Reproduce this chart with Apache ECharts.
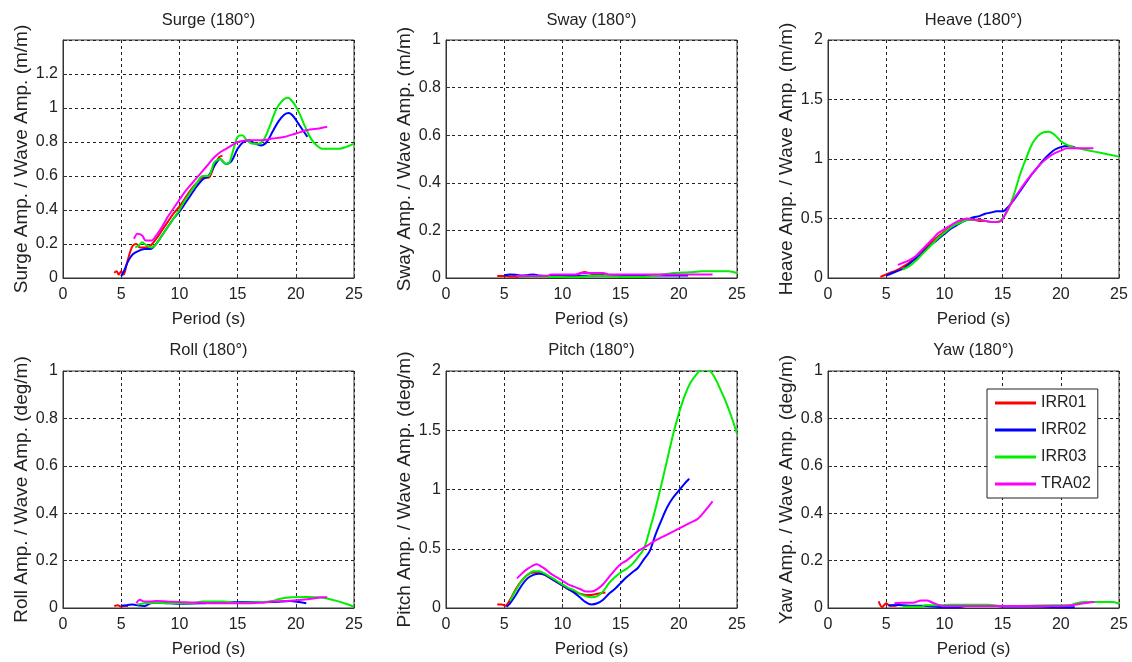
<!DOCTYPE html>
<html>
<head>
<meta charset="utf-8">
<script src="https://cdn.jsdelivr.net/npm/echarts@6/dist/echarts.min.js"></script>
<style>html,body{margin:0;padding:0;background:#fff;}#c{width:1132px;height:662px;}</style>
</head>
<body>
<div id="c"></div>
<script>
// ---------- DATA ----------
const seriesNames = ['IRR01', 'IRR02', 'IRR03', 'TRA02'];
const titles = ['Surge (180°)', 'Sway (180°)', 'Heave (180°)', 'Roll (180°)', 'Pitch (180°)', 'Yaw (180°)'];
const yNames = ['Surge Amp. / Wave Amp. (m/m)', 'Sway Amp. / Wave Amp. (m/m)', 'Heave Amp. / Wave Amp. (m/m)',
                'Roll Amp. / Wave Amp. (deg/m)', 'Pitch Amp. / Wave Amp. (deg/m)', 'Yaw Amp. / Wave Amp. (deg/m)'];
const xName = 'Period (s)';
const xRange = [0, 25, 5];
const yMax = [1.4, 1, 2, 1, 2, 1];
const yStep = [0.2, 0.2, 0.5, 0.2, 0.5, 0.2];
const yLabelMax = [1.2, 1, 2, 1, 2, 1];

const surgeIRR01 = [[4.4,0.03],[4.6,0.04],[4.8,0.02],[5.0,0.04],[5.2,0.02],[5.5,0.09],[5.8,0.16],[6.0,0.19],[6.3,0.2],[6.6,0.18],[7.0,0.18],[7.5,0.19],[8.0,0.23],[8.5,0.28],[9.0,0.33],[9.5,0.38],[10.0,0.42],[10.5,0.47],[11.0,0.52],[11.5,0.56],[12.0,0.59],[12.5,0.59],[13.0,0.66],[13.4,0.71],[13.7,0.72]];
const surgeIRR02 = [[5.0,0.01],[5.3,0.05],[5.6,0.1],[6.0,0.14],[6.5,0.16],[7.0,0.17],[7.5,0.17],[8.0,0.2],[8.5,0.25],[9.0,0.3],[9.5,0.35],[10.0,0.39],[10.5,0.44],[11.0,0.49],[11.5,0.54],[12.0,0.58],[12.5,0.6],[13.0,0.66],[13.5,0.7],[14.0,0.67],[14.5,0.69],[15.0,0.76],[15.5,0.8],[16.0,0.81],[16.5,0.79],[17.0,0.78],[17.5,0.8],[18.0,0.86],[18.5,0.92],[19.0,0.96],[19.4,0.97],[19.8,0.95],[20.3,0.9],[20.8,0.85],[21.0,0.83]];
const surgeIRR03 = [[6.2,0.18],[6.5,0.19],[6.8,0.21],[7.2,0.19],[7.6,0.18],[8.0,0.2],[8.5,0.25],[9.0,0.3],[9.5,0.35],[10.0,0.4],[10.5,0.46],[11.0,0.51],[11.5,0.56],[12.0,0.6],[12.5,0.6],[13.0,0.68],[13.5,0.7],[14.0,0.67],[14.3,0.68],[14.7,0.77],[15.0,0.83],[15.4,0.84],[15.8,0.81],[16.3,0.79],[16.8,0.79],[17.3,0.82],[17.8,0.9],[18.3,0.99],[18.8,1.04],[19.3,1.06],[19.8,1.03],[20.3,0.97],[20.8,0.89],[21.3,0.82],[21.8,0.78],[22.3,0.76],[23.0,0.76],[23.7,0.76],[24.3,0.77],[25.0,0.79]];
const surgeTRA02 = [[6.1,0.23],[6.4,0.26],[6.8,0.25],[7.1,0.22],[7.6,0.22],[8.0,0.25],[8.5,0.3],[9.0,0.36],[9.5,0.41],[10.0,0.46],[10.5,0.51],[11.0,0.55],[11.5,0.59],[12.0,0.63],[12.5,0.67],[13.0,0.71],[13.5,0.74],[14.0,0.76],[14.5,0.78],[15.0,0.8],[16.0,0.81],[17.0,0.81],[18.0,0.82],[19.0,0.83],[20.0,0.85],[21.0,0.87],[22.0,0.88],[22.7,0.89]];

const swayIRR01 = [[4.4,0.008],[5.0,0.008],[5.8,0.006],[6.5,0.004],[8.0,0.003],[9.6,0.005],[10.0,0.005],[11.0,0.01],[11.9,0.025],[12.5,0.018],[13.6,0.015]];
const swayIRR02 = [[5.0,0.012],[5.5,0.015],[6.0,0.014],[6.5,0.01],[7.0,0.012],[7.5,0.015],[8.0,0.01],[10.0,0.008],[13.0,0.01],[15.0,0.01],[18.0,0.01],[20.8,0.01]];
const swayIRR03 = [[6.2,0.005],[8.0,0.004],[10.0,0.004],[11.0,0.003],[13.0,0.01],[15.5,0.004],[16.8,0.004],[18.0,0.01],[19.4,0.02],[20.9,0.024],[22.0,0.028],[24.3,0.028],[25.0,0.02]];
const swayTRA02 = [[6.0,0.008],[8.7,0.008],[9.0,0.015],[11.2,0.015],[11.6,0.021],[13.5,0.021],[14.0,0.015],[22.9,0.015]];

const heaveIRR01 = [[4.5,0.01],[5.0,0.03],[5.5,0.05],[6.0,0.07],[6.5,0.1],[7.0,0.13],[8.0,0.22],[9.0,0.31],[10.0,0.39],[11.0,0.45],[12.0,0.49],[12.5,0.49],[13.0,0.48],[13.6,0.48]];
const heaveIRR02 = [[5.0,0.02],[5.5,0.04],[6.0,0.06],[6.5,0.08],[7.0,0.12],[7.5,0.16],[8.0,0.2],[8.5,0.25],[9.0,0.29],[9.5,0.33],[10.0,0.37],[10.5,0.41],[11.0,0.44],[11.5,0.47],[12.0,0.49],[12.5,0.51],[13.0,0.52],[13.5,0.54],[14.0,0.55],[14.5,0.56],[15.0,0.56],[15.5,0.6],[16.0,0.66],[16.5,0.73],[17.0,0.8],[17.5,0.87],[18.0,0.93],[18.5,0.99],[19.0,1.04],[19.5,1.08],[20.0,1.1],[20.5,1.11],[21.2,1.1]];
const heaveIRR03 = [[6.4,0.07],[7.0,0.1],[7.5,0.14],[8.0,0.19],[8.5,0.24],[9.0,0.29],[9.5,0.34],[10.0,0.38],[10.5,0.42],[11.0,0.45],[11.5,0.47],[12.0,0.49],[12.5,0.49],[13.0,0.49],[13.5,0.48],[14.0,0.47],[14.5,0.47],[15.0,0.5],[15.5,0.58],[16.0,0.71],[16.5,0.87],[17.0,1.0],[17.5,1.12],[18.0,1.19],[18.5,1.225],[19.0,1.23],[19.5,1.2],[20.0,1.15],[20.5,1.12],[21.0,1.1],[21.5,1.09],[22.0,1.08],[23.0,1.06],[24.0,1.04],[25.0,1.02]];
const heaveTRA02 = [[6.0,0.11],[6.5,0.13],[7.0,0.15],[7.5,0.18],[8.0,0.23],[8.5,0.28],[9.0,0.33],[9.5,0.38],[10.0,0.41],[10.5,0.44],[11.0,0.47],[11.5,0.49],[12.0,0.5],[12.5,0.49],[13.0,0.49],[13.5,0.48],[14.0,0.47],[14.5,0.47],[14.9,0.48],[15.3,0.55],[16.0,0.67],[16.5,0.74],[17.0,0.81],[17.5,0.87],[18.0,0.93],[18.5,0.98],[19.0,1.02],[19.5,1.05],[20.0,1.07],[20.5,1.09],[21.0,1.09],[22.0,1.09],[22.8,1.09]];

const rollIRR01 = [[4.4,0.008],[4.7,0.012],[5.0,0.006],[5.3,0.01],[5.6,0.008]];
const rollIRR02 = [[5.0,0.01],[5.5,0.012],[6.0,0.015],[6.5,0.01],[7.0,0.008],[7.5,0.02],[8.0,0.022],[9.2,0.02],[10.0,0.018],[12.0,0.02],[15.2,0.025],[16.6,0.025],[18.0,0.025],[19.5,0.03],[20.3,0.025],[20.9,0.02]];
const rollIRR03 = [[6.4,0.015],[7.0,0.02],[8.0,0.022],[9.0,0.02],[10.0,0.02],[11.0,0.02],[12.0,0.027],[13.8,0.027],[15.0,0.022],[17.0,0.025],[18.0,0.03],[18.6,0.038],[19.6,0.045],[21.0,0.046],[22.0,0.045],[22.7,0.04],[23.5,0.03],[24.3,0.018],[25.0,0.006]];
const rollTRA02 = [[6.3,0.02],[6.6,0.035],[7.0,0.027],[7.5,0.027],[8.0,0.03],[9.0,0.027],[10.0,0.025],[12.0,0.022],[14.0,0.02],[16.0,0.02],[17.0,0.022],[18.0,0.027],[19.2,0.03],[20.5,0.035],[21.5,0.04],[22.3,0.045],[22.7,0.045]];

const pitchIRR01 = [[4.4,0.03],[4.8,0.03],[5.1,0.02],[5.5,0.07],[6.0,0.16],[6.5,0.23],[7.0,0.28],[7.5,0.3],[8.0,0.3],[8.5,0.28],[9.0,0.25],[9.5,0.22],[10.0,0.19],[10.5,0.16],[11.0,0.14],[11.5,0.12],[12.0,0.11],[12.5,0.11],[13.0,0.12],[13.7,0.13]];
const pitchIRR02 = [[5.2,0.01],[5.5,0.04],[6.0,0.11],[6.5,0.19],[7.0,0.25],[7.5,0.28],[8.0,0.29],[8.5,0.28],[9.0,0.25],[9.5,0.22],[10.0,0.19],[10.5,0.16],[11.0,0.13],[11.5,0.09],[12.0,0.05],[12.5,0.03],[13.0,0.04],[13.5,0.07],[14.0,0.12],[14.5,0.16],[15.0,0.21],[15.5,0.26],[16.0,0.3],[16.5,0.34],[17.0,0.41],[17.5,0.48],[18.0,0.62],[18.5,0.74],[19.0,0.85],[19.5,0.93],[20.0,0.99],[20.5,1.05],[20.9,1.09]];
const pitchIRR03 = [[5.5,0.06],[6.0,0.15],[6.5,0.23],[7.0,0.28],[7.5,0.31],[8.0,0.31],[8.5,0.29],[9.0,0.26],[9.5,0.23],[10.0,0.2],[10.5,0.17],[11.0,0.15],[11.5,0.12],[12.0,0.1],[12.5,0.09],[13.0,0.1],[13.5,0.14],[14.0,0.21],[14.5,0.26],[15.0,0.3],[15.5,0.33],[16.0,0.37],[16.5,0.43],[17.0,0.5],[17.5,0.66],[18.0,0.84],[18.5,1.04],[19.0,1.25],[19.5,1.46],[20.0,1.64],[20.5,1.79],[21.0,1.9],[21.5,1.97],[22.0,2.01],[22.5,2.01],[23.0,1.96],[23.5,1.86],[24.0,1.75],[24.5,1.62],[25.0,1.47]];
const pitchTRA02 = [[6.1,0.25],[6.5,0.29],[7.0,0.33],[7.5,0.36],[7.8,0.37],[8.2,0.35],[8.5,0.33],[9.0,0.29],[9.5,0.26],[10.0,0.23],[10.5,0.2],[11.0,0.18],[11.5,0.16],[12.0,0.14],[12.5,0.14],[13.0,0.16],[13.5,0.2],[14.0,0.26],[14.5,0.32],[15.0,0.37],[15.5,0.4],[16.0,0.44],[16.5,0.48],[17.0,0.51],[17.5,0.54],[18.0,0.57],[19.0,0.62],[20.0,0.67],[21.0,0.72],[21.6,0.75],[22.0,0.79],[22.5,0.85],[22.9,0.9]];

const yawIRR01 = [[4.35,0.028],[4.65,0.004],[5.0,0.02],[5.3,0.01],[5.9,0.01]];
const yawIRR02 = [[5.2,0.012],[6.0,0.013],[7.0,0.01],[8.0,0.01],[10.0,0.003],[10.9,0.003],[12.5,0.012],[13.7,0.012],[15.0,0.006],[18.0,0.006],[20.5,0.003],[21.2,0.003]];
const yawIRR03 = [[6.4,0.005],[8.1,0.005],[8.3,0.012],[9.8,0.012],[10.5,0.014],[13.8,0.014],[15.0,0.008],[19.5,0.012],[20.8,0.012],[21.2,0.018],[22.0,0.025],[23.2,0.025],[24.5,0.025],[25.0,0.018]];
const yawTRA02 = [[5.7,0.02],[6.4,0.022],[7.3,0.022],[8.0,0.032],[8.5,0.032],[9.0,0.022],[10.0,0.008],[15.0,0.008],[20.2,0.008],[21.0,0.012],[22.0,0.02],[22.9,0.025]];

const panelData = [
  [surgeIRR01, surgeIRR02, surgeIRR03, surgeTRA02],
  [swayIRR01, swayIRR02, swayIRR03, swayTRA02],
  [heaveIRR01, heaveIRR02, heaveIRR03, heaveTRA02],
  [rollIRR01, rollIRR02, rollIRR03, rollTRA02],
  [pitchIRR01, pitchIRR02, pitchIRR03, pitchTRA02],
  [yawIRR01, yawIRR02, yawIRR03, yawTRA02]
];

// ---------- STYLE / LAYOUT ----------
const colors = ['#ff0000', '#0000ff', '#00ee00', '#ff00ff'];
const FONT = '"Liberation Sans", Arial, sans-serif';
const gridLeft = [63, 446, 828];
const gridTop = [40, 371];
const gridW = 291;
const gridH = [238, 237];

const grids = [], xAxes = [], yAxes = [], series = [], titleArr = [];
for (let i = 0; i < 6; i++) {
  const col = i % 3, row = Math.floor(i / 3);
  grids.push({ left: gridLeft[col], top: gridTop[row], width: gridW, height: gridH[row],
    show: true, borderColor: '#333', borderWidth: 1, backgroundColor: '#fff' });
  const splitStyle = { show: true, lineStyle: { color: '#222', width: 1, type: [3, 3] } };
  xAxes.push({ gridIndex: i, type: 'value', min: xRange[0], max: xRange[1], interval: xRange[2],
    name: xName, nameLocation: 'middle', nameGap: 33,
    nameTextStyle: { fontFamily: FONT, fontSize: 17, color: '#222' },
    axisLine: { show: true, onZero: false, lineStyle: { color: '#333' } },
    axisTick: { show: true, inside: true, length: 4, lineStyle: { color: '#333' } },
    axisLabel: { fontFamily: FONT, fontSize: 16, color: '#222', margin: 9 },
    splitLine: splitStyle });
  const lm = yLabelMax[i];
  yAxes.push({ gridIndex: i, type: 'value', min: 0, max: yMax[i], interval: yStep[i],
    name: yNames[i], nameLocation: 'middle', nameRotate: 90, nameGap: 32,
    nameTextStyle: { fontFamily: FONT, fontSize: 19, color: '#222' },
    axisLine: { show: true, lineStyle: { color: '#333' } },
    axisTick: { show: true, inside: true, length: 4, lineStyle: { color: '#333' } },
    axisLabel: { fontFamily: FONT, fontSize: 16, color: '#222', margin: 5,
      formatter: v => (v > lm + 1e-9 ? '' : String(+v.toFixed(2))) },
    splitLine: splitStyle });
  titleArr.push({ text: titles[i], left: gridLeft[col] + gridW / 2, top: row === 0 ? 12 : 342,
    textAlign: 'center', padding: 0,
    textStyle: { fontFamily: FONT, fontSize: 16.5, fontWeight: 'normal', color: '#222' } });
  for (let s = 0; s < 4; s++) {
    series.push({ name: seriesNames[s], type: 'line', xAxisIndex: i, yAxisIndex: i,
      data: panelData[i][s], symbol: 'none', smooth: 0.3, clip: true,
      lineStyle: { color: colors[s], width: 2 }, itemStyle: { color: colors[s] },
      emphasis: { disabled: true }, z: 2 + s });
  }
}

const chart = echarts.init(document.getElementById('c'), null, { renderer: 'canvas' });
chart.setOption({
  animation: false,
  backgroundColor: '#fff',
  title: titleArr,
  grid: grids,
  xAxis: xAxes,
  yAxis: yAxes,
  legend: {
    data: seriesNames, orient: 'vertical', left: 987, top: 389,
    icon: 'rect', itemWidth: 41, itemHeight: 3,
    padding: [6, 7, 6, 8], itemGap: 11,
    backgroundColor: '#fff', borderColor: '#222', borderWidth: 1, borderRadius: 0,
    textStyle: { fontFamily: FONT, fontSize: 16, color: '#222', lineHeight: 16 },
    z: 20
  },
  series: series
});
</script>
</body>
</html>
